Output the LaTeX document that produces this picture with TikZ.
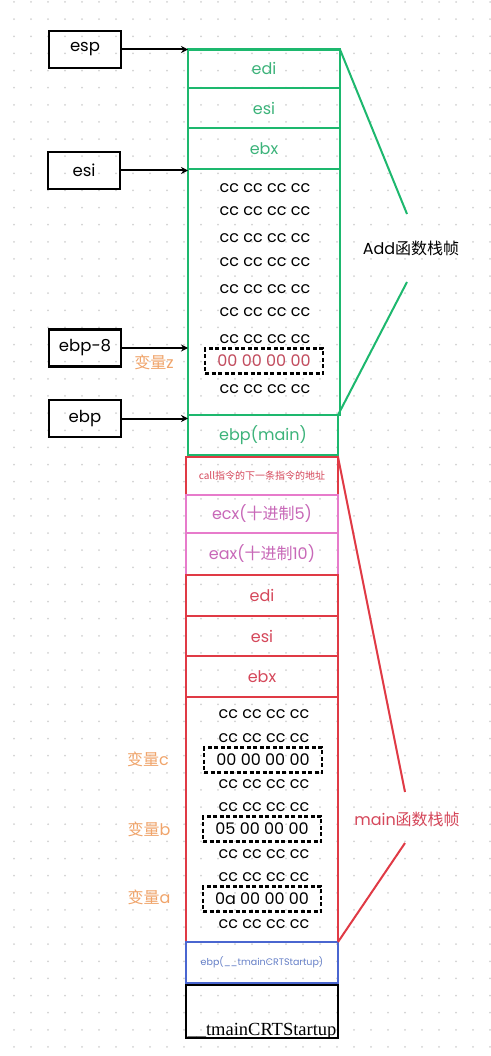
\documentclass[tikz,border=0pt]{standalone}
\usepackage{fontspec}
\setmainfont{Poppins}
\newfontfamily\cjk{Noto Sans CJK SC}
\newfontfamily\serifx{Liberation Serif}
\usetikzlibrary{arrows.meta}
\definecolor{gline}{HTML}{1DB86E}
\definecolor{gtext}{HTML}{3CB37A}
\definecolor{rline}{HTML}{E03A45}
\definecolor{rtext}{HTML}{D5475A}
\definecolor{pline}{HTML}{E77BCB}
\definecolor{ptext}{HTML}{C868B8}
\definecolor{otext}{HTML}{F0A46A}
\definecolor{bline}{HTML}{4A66D0}
\definecolor{btext}{HTML}{6680C8}
\definecolor{dotc}{HTML}{D2D2D2}
\definecolor{zred}{HTML}{C24C5E}
\tikzset{
  cell/.style={draw, line width=2.6, inner sep=0, outer sep=0, minimum width=152, font=\fontsize{16}{18}\selectfont},
  gcell/.style={cell, draw=gline, text=gtext},
  rcell/.style={cell, draw=rline, text=rtext},
  pcell/.style={cell, draw=pline, text=ptext},
  bcell/.style={cell, draw=bline, text=btext},
  kcell/.style={cell, draw=black},
  ptr/.style={draw=black, line width=2.6, minimum width=72, minimum height=37, inner sep=0, outer sep=0, font=\fontsize{16.5}{18}\selectfont},
  mem/.style={inner sep=0, font=\fontsize{16}{18}\selectfont},
  var/.style={draw=black, dashed, dash pattern=on 4pt off 2.5pt, line width=2.2, minimum width=118, minimum height=25, inner sep=0, font=\fontsize{16}{18}\selectfont},
  lab/.style={inner sep=0, text=otext, font=\fontsize{16}{18}\selectfont},
  side/.style={inner sep=0, font=\fontsize{16}{18}\selectfont},
  parrow/.style={-{Stealth[length=7pt,width=7pt]}, line width=2, black},
  gbrace/.style={draw=gline, line width=2},
  rbrace/.style={draw=rline, line width=2}
}
\begin{document}
\begin{tikzpicture}[x=1pt,y=-1pt]
\useasboundingbox (0,0) rectangle (490,1056);
\fill[white] (0,0) rectangle (490,1056);
\foreach \i in {0,...,28} {\foreach \j in {0,...,61} {\fill[dotc] ({14+17*\i},{2+17.13*\j}) circle (1);}}
% Add frame
\node[gcell, minimum height=38.5] (edi) at (264,68.75) {edi};
\node[gcell, minimum height=40] (esi) at (264,108) {esi};
\node[gcell, minimum height=41] (ebx) at (264,148.5) {ebx};
\node[gcell, minimum height=246] (addbig) at (264,292) {};
\node[gcell, minimum width=150, minimum height=40] (ebpmain) at (263,435) {ebp(main)};
\node[mem] (a1) at (265,188) {cc cc cc cc};
\node[mem] (a2) at (265,211) {cc cc cc cc};
\node[mem] (a3) at (265,238) {cc cc cc cc};
\node[mem] (a4) at (265,262) {cc cc cc cc};
\node[mem] (a5) at (265,289) {cc cc cc cc};
\node[mem] (a6) at (265,312) {cc cc cc cc};
\node[mem] (a7) at (265,339) {cc cc cc cc};
\node[var, text=zred] (vz) at (264,361) {00 00 00 00};
\node[mem] (a8) at (265,389) {cc cc cc cc};
\node[lab] (lz) at (154,362) {{\cjk 变量}z};
% main frame
\node[rcell, minimum height=38, font=\cjk\fontsize{10}{12}\selectfont] (call) at (262,476) {call指令的下一条指令的地址};
\node[pcell, minimum height=38] (ecx) at (262,514) {ecx({\cjk 十进制}5)};
\node[pcell, minimum height=42] (eax) at (262,554) {eax({\cjk 十进制}10)};
\node[rcell, minimum height=41] (medi) at (262,595.5) {edi};
\node[rcell, minimum height=40] (mesi) at (262,636) {esi};
\node[rcell, minimum height=41] (mebx) at (262,676.5) {ebx};
\node[rcell, minimum height=245] (mainbig) at (262,819.5) {};
\node[bcell, minimum height=41, font=\fontsize{9.5}{11}\selectfont] (tebp) at (262,962.5) {ebp(\_\_tmainCRTStartup)};
\node[kcell, minimum height=53] (tmain) at (262,1011.5) {};
\node[inner sep=0, font=\serifx\fontsize{18.5}{22}\selectfont, anchor=base] (tname) at (262,1035) {\_\_tmainCRTStartup};
\node[mem] (m1) at (264,714) {cc cc cc cc};
\node[mem] (m2) at (264,738) {cc cc cc cc};
\node[var] (vc) at (263,760) {00 00 00 00};
\node[mem] (m3) at (264,784) {cc cc cc cc};
\node[mem] (m4) at (264,807) {cc cc cc cc};
\node[var] (vb) at (262,829) {05 00 00 00};
\node[mem] (m5) at (264,854) {cc cc cc cc};
\node[mem] (m6) at (264,877) {cc cc cc cc};
\node[var] (va) at (262,899) {0a 00 00 00};
\node[mem] (m7) at (264,924) {cc cc cc cc};
\node[lab] (lc) at (148,759) {{\cjk 变量}c};
\node[lab] (lb) at (149,829) {{\cjk 变量}b};
\node[lab] (la) at (149,897) {{\cjk 变量}a};
% pointers
\node[ptr] (pesp) at (85,49.5) {esp};
\node[ptr] (pesi) at (84,170.5) {esi};
\node[ptr] (pebp8) at (85,348) {ebp-8};
\node[ptr] (pebp) at (85,418.5) {ebp};
\draw[parrow] (pesp.east) -- (pesp.east -| edi.west);
\draw[parrow] (pesi.east) -- (pesi.east -| edi.west);
\draw[parrow] (pebp8.east) -- (pebp8.east -| edi.west);
\draw[parrow] (pebp.east) -- (pebp.east -| edi.west);
% frame labels
\coordinate (gA) at (407,214);
\coordinate (gB) at (407,282);
\node[side] (addlab) at (411,248) {Add{\cjk 函数栈帧}};
\draw[gbrace] (edi.north east) -- (gA);
\draw[gbrace] (gB) -- (ebpmain.north east);
\coordinate (rA) at (405,792);
\coordinate (rB) at (405,843);
\node[side, text=rtext] (mainlab) at (407,819) {main{\cjk 函数栈帧}};
\draw[rbrace] (call.north east) -- (rA);
\draw[rbrace] (rB) -- (mainbig.south east);
\end{tikzpicture}
\end{document}
